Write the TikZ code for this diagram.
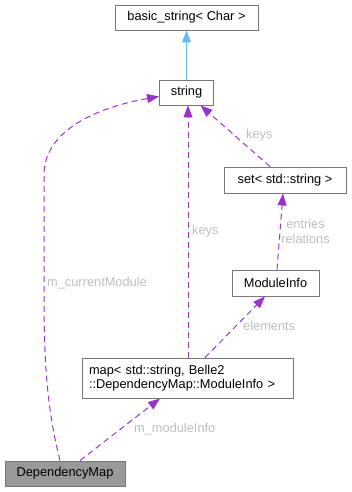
\documentclass[tikz,border=0pt]{standalone}
\usepackage{fontspec}
\setmainfont{Liberation Sans}
\usetikzlibrary{arrows.meta}
\definecolor{edgep}{HTML}{9A32CD}
\definecolor{edgeb}{HTML}{63B8FF}
\definecolor{lbl}{HTML}{BEBEBE}
\definecolor{bord}{HTML}{777777}
\definecolor{dmfill}{HTML}{999999}
\tikzset{
  x=1pt, y=-1pt,
  cls/.style={draw=bord, fill=white, line width=0.9pt, inner sep=0pt, font=\fontsize{12.8}{14.5}\selectfont, align=left},
  dep/.style={draw=edgep, color=edgep, line width=1pt, dash pattern=on 6pt off 4pt, -{Triangle[length=12pt,width=9pt]}},
  inh/.style={draw=edgeb, color=edgeb, line width=1pt, -{Triangle[length=12pt,width=9pt]}},
  elbl/.style={text=lbl, font=\fontsize{12.8}{14.5}\selectfont, inner sep=0pt}
}
\begin{document}
\begin{tikzpicture}
\useasboundingbox (0,0) rectangle (352,492);
\node[cls, minimum width=143pt, minimum height=25pt] (bs) at (186.5,17.5) {basic\_string< Char >};
\node[cls, minimum width=54pt, minimum height=25pt] (str) at (186.5,92.5) {string};
\node[cls, minimum width=122pt, minimum height=26pt] (set) at (285,180) {set< std::string >};
\node[cls, minimum width=87pt, minimum height=26pt] (mi) at (275.5,283) {ModuleInfo};
\node[cls, minimum width=211pt, minimum height=40pt, text width=197pt] (map) at (187.5,378) {map< std::string, Belle2\\::DependencyMap::ModuleInfo >};
\node[cls, fill=dmfill, minimum width=120pt, minimum height=25pt] (dm) at (65,473.5) {DependencyMap};

\draw[inh] (str.north) -- (bs.south);
\draw[dep] ([xshift=-5pt]dm.north) .. controls (50,420) and (44,380) .. (44,300)
  -- (44,175) .. controls (44,125) and (110,105) .. ([yshift=-4pt]str.west);
\draw[dep] ([xshift=0.5pt]map.north) -- ([xshift=1.5pt]str.south);
\draw[dep] ([xshift=-15pt]set.north) -- ([xshift=14pt]str.south);
\draw[dep] ([xshift=1.5pt]mi.north) -- ([xshift=-2pt]set.south);
\draw[dep] ([xshift=17.5pt]map.north) -- ([xshift=-10.5pt]mi.south);
\draw[dep] ([xshift=15pt]dm.north) -- ([xshift=-27.5pt]map.south);

\node[elbl, anchor=west] (l1) at (47,283) {m\_currentModule};
\node[elbl, anchor=west] (l2) at (192,231) {keys};
\node[elbl, anchor=west] (l3) at (246,135) {keys};
\node[elbl, align=center] (l4) at (305.5,231.5) {entries\\relations};
\node[elbl, anchor=west] (l5) at (243,326) {elements};
\node[elbl, anchor=west] (l6) at (134,429) {m\_moduleInfo};
\end{tikzpicture}
\end{document}
